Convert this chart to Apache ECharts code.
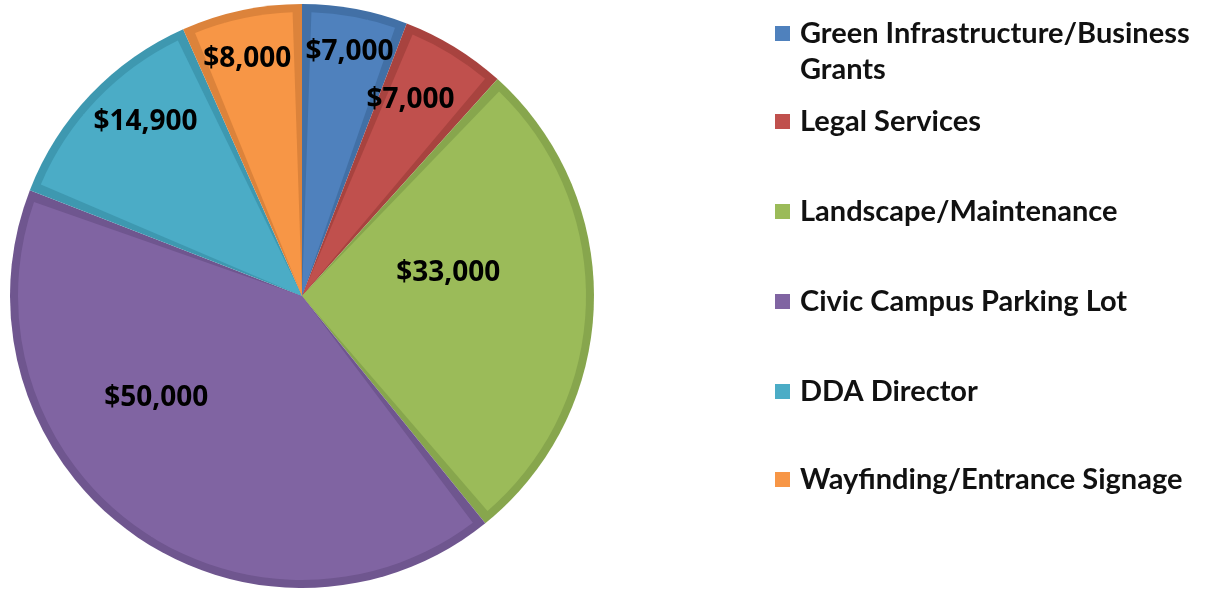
<!DOCTYPE html>
<html>
<head>
<meta charset="utf-8">
<script src="https://cdn.jsdelivr.net/npm/echarts@6/dist/echarts.min.js"></script>
<style>
  html, body { margin: 0; padding: 0; background: #fff; }
  #chart { width: 1207px; height: 590px; }
</style>
</head>
<body>
<div id="chart"></div>
<script>
    'use strict';

    var categories = [
        'Green Infrastructure/Business Grants',
        'Legal Services',
        'Landscape/Maintenance',
        'Civic Campus Parking Lot',
        'DDA Director',
        'Wayfinding/Entrance Signage'
    ];
    var amounts = [7000, 7000, 33000, 50000, 14900, 8000];

    var fillColors = ['#4F81BD', '#C0504D', '#9BBB59', '#8064A2', '#4BACC6', '#F79646'];
    var edgeColors = ['#4270a6', '#a8433f', '#87a64d', '#6f568f', '#3e98b0', '#dc833b'];

    // where excel put each label: angle from 12 o'clock (deg), distance from centre (px)
    var labelSpots = [[11, 249], [29, 224], [81, 148], [235, 178], [318, 234], [347, 243]];

    var cx = 302, cy = 296, outerR = 292;
    var legendFont = { fontFamily: 'Lato', fontSize: 29, fontWeight: 'bold', color: '#111' };

    var fmt = function (v) {
        return '$' + String(v).replace(/\B(?=(\d{3})+(?!\d))/g, ',');
    };

    var fillData = [], edgeData = [];
    for (var i = 0; i < categories.length; i++) {
        fillData.push({ name: categories[i], value: amounts[i], itemStyle: { color: fillColors[i] } });
        edgeData.push({ name: categories[i], value: amounts[i], itemStyle: { color: edgeColors[i] } });
    }

    // one legend block per entry so the rows can sit where excel had them
    var legends = [];
    var legendTops = [14, 102, 192, 282, 372, 460];
    for (var j = 0; j < categories.length; j++) {
        legends.push({
            data: [categories[j]],
            left: 770,
            top: legendTops[j],
            icon: 'rect',
            itemWidth: 15,
            itemHeight: 15,
            selectedMode: false,
            formatter: j === 0 ? function () { return 'Green Infrastructure/Business'; } : '{name}',
            textStyle: {
                fontFamily: legendFont.fontFamily,
                fontSize: legendFont.fontSize,
                fontWeight: legendFont.fontWeight,
                color: legendFont.color,
                padding: [0, 0, 0, 5]
            }
        });
    }

    var option = {
        backgroundColor: '#fff',
        animation: false,
        legend: legends,
        graphic: [{
            type: 'text',
            left: 800,
            top: 55,
            style: {
                text: 'Grants',
                fontFamily: legendFont.fontFamily,
                fontSize: legendFont.fontSize,
                fontWeight: legendFont.fontWeight,
                fill: legendFont.color
            }
        }],
        series: [
            {
                // lighter face of each slice, pulled in from the edges
                name: 'fill',
                type: 'pie',
                z: 3,
                center: [cx, cy],
                radius: [0, outerR - 8],
                startAngle: 90,
                clockwise: true,
                padAngle: 3.8,
                data: fillData,
                label: {
                    show: true,
                    position: 'inside',
                    formatter: function (p) { return fmt(p.value); },
                    fontFamily: 'Open Sans',
                    fontWeight: 'bold',
                    fontSize: 28,
                    color: '#000',
                    textBorderWidth: 0,
                    textBorderColor: 'transparent'
                },
                labelLayout: function (p) {
                    var s = labelSpots[p.dataIndex];
                    var a = s[0] * Math.PI / 180;
                    return { x: cx + s[1] * Math.sin(a), y: cy - s[1] * Math.cos(a) };
                },
                emphasis: { disabled: true }
            },
            {
                // darker rim underneath
                name: 'edge',
                type: 'pie',
                z: 2,
                center: [cx, cy],
                radius: [0, outerR],
                startAngle: 90,
                clockwise: true,
                data: edgeData,
                label: { show: false },
                labelLine: { show: false },
                emphasis: { disabled: true }
            }
        ]
    };

    echarts.init(document.getElementById('chart')).setOption(option, true);
</script>
</body>
</html>
